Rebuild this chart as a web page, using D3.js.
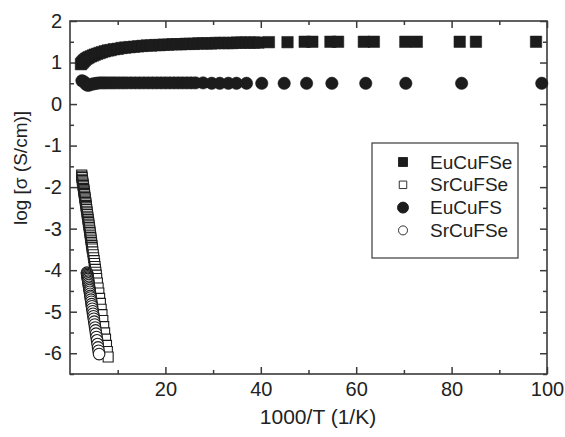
<!DOCTYPE html>
<html>
<head>
<meta charset="utf-8">
<script src="https://cdn.jsdelivr.net/npm/d3@7"></script>
<style>
  body { margin: 0; background: #fff; }
  text { font-family: "Liberation Sans", Arial, sans-serif; fill: #222; }
</style>
</head>
<body>
<div id="chart"></div>
<script>
// EuCuFSe (filled squares)
var xEuCuFSe = [2.3, 2.5, 2.7, 2.9, 3.1, 3.4, 3.7, 4.0, 4.4, 4.8, 5.2, 5.7, 6.2, 6.7, 7.3, 7.9, 8.5, 9.2, 10.0, 10.8,
  11.6, 12.5, 13.4, 14.3, 15.2, 16.1, 17.0, 17.9, 18.8, 19.7, 20.6, 21.5, 22.4, 23.3, 24.2, 25.1, 26.0, 26.9, 27.8, 28.7,
  29.6, 30.5, 31.4, 32.3, 33.2, 34.1, 35.0, 35.9, 36.8, 37.7, 38.6, 39.5, 41.7, 45.6, 49.2, 50.8, 54.6, 56.2, 61.6, 63.7,
  70.3, 72.7, 81.7, 85.1, 97.7];
var yEuCuFSe = [0.96, 0.99, 1.01, 1.04, 1.06, 1.09, 1.11, 1.13, 1.15, 1.17, 1.19, 1.21, 1.23, 1.25, 1.27, 1.29, 1.30, 1.32, 1.33, 1.35,
  1.36, 1.37, 1.38, 1.39, 1.40, 1.41, 1.41, 1.42, 1.42, 1.43, 1.43, 1.44, 1.44, 1.44, 1.45, 1.45, 1.45, 1.46, 1.46, 1.46,
  1.46, 1.47, 1.47, 1.47, 1.47, 1.47, 1.48, 1.48, 1.48, 1.48, 1.48, 1.48, 1.49, 1.49, 1.50, 1.50, 1.50, 1.50, 1.50, 1.50,
  1.50, 1.50, 1.50, 1.50, 1.50];

// SrCuFSe (open squares)
var xSrCuFSe = [2.45, 2.49, 2.53, 2.57, 2.61, 2.65, 2.69, 2.73, 2.77, 2.81, 2.85, 2.89, 2.93, 2.97, 3.01, 3.05, 3.09, 3.13, 3.17, 3.21,
  3.25, 3.29, 3.33, 3.37, 3.41, 3.45, 3.50, 3.55, 3.60, 3.65, 3.70, 3.75, 3.80, 3.85, 3.90, 3.95, 4.00, 4.05, 4.10, 4.15,
  4.20, 4.25, 4.30, 4.35, 4.40, 4.45, 4.50, 4.55, 4.60, 4.65, 4.70, 4.79, 4.88, 4.97, 5.06, 5.15, 5.24, 5.33, 5.42, 5.51,
  5.60, 5.75, 5.90, 6.05, 6.21, 6.37, 6.54, 6.71, 6.89, 7.07, 7.26, 7.45, 7.65, 7.83, 8.00];
var ySrCuFSe = [-1.71, -1.74, -1.77, -1.81, -1.84, -1.87, -1.90, -1.93, -1.96, -1.99, -2.03, -2.06, -2.09, -2.12, -2.15, -2.18, -2.22, -2.25, -2.28, -2.31,
  -2.34, -2.37, -2.40, -2.44, -2.47, -2.50, -2.54, -2.58, -2.62, -2.66, -2.70, -2.74, -2.78, -2.82, -2.85, -2.89, -2.93, -2.97, -3.01, -3.05,
  -3.09, -3.13, -3.17, -3.21, -3.25, -3.29, -3.33, -3.37, -3.41, -3.45, -3.49, -3.56, -3.63, -3.70, -3.77, -3.84, -3.91, -3.98, -4.05, -4.12,
  -4.20, -4.31, -4.43, -4.55, -4.68, -4.80, -4.94, -5.07, -5.21, -5.36, -5.51, -5.66, -5.81, -5.96, -6.09];

// EuCuFS (filled circles)
var xEuCuFS = [2.5, 2.9, 3.3, 3.7, 4.1, 4.6, 5.1, 5.6, 6.2, 6.8, 7.4, 8.1, 8.8, 9.5, 10.3, 11.1, 11.9, 12.8, 13.7, 14.6,
  15.5, 16.4, 17.3, 18.2, 19.1, 20.0, 20.9, 21.8, 22.7, 23.6, 24.5, 25.4, 26.3, 27.9, 29.7, 31.4, 33.2, 34.9, 37.0, 40.2,
  44.9, 49.6, 54.9, 62.0, 70.4, 82.1, 98.9];
var yEuCuFS = [0.56, 0.54, 0.48, 0.45, 0.46, 0.48, 0.49, 0.50, 0.51, 0.51, 0.51, 0.51, 0.51, 0.51, 0.51, 0.51, 0.51, 0.51, 0.51, 0.51,
  0.51, 0.51, 0.51, 0.51, 0.51, 0.51, 0.51, 0.51, 0.51, 0.51, 0.51, 0.51, 0.51, 0.51, 0.50, 0.50, 0.50, 0.50, 0.50, 0.50,
  0.50, 0.50, 0.50, 0.50, 0.50, 0.50, 0.50];

// SrCuFSe (open circles)
var xSrCuFSe2 = [3.56, 3.60, 3.64, 3.68, 3.72, 3.76, 3.80, 3.85, 3.90, 3.95, 4.00, 4.05, 4.10, 4.16, 4.22, 4.28, 4.34, 4.40, 4.47, 4.54,
  4.61, 4.68, 4.76, 4.84, 4.92, 5.00, 5.09, 5.18, 5.27, 5.36, 5.46, 5.56, 5.67, 5.78, 5.89, 6.00, 6.10];
var ySrCuFSe2 = [-4.06, -4.09, -4.12, -4.15, -4.18, -4.21, -4.25, -4.28, -4.32, -4.36, -4.40, -4.44, -4.48, -4.52, -4.57, -4.62, -4.66, -4.71, -4.76, -4.82,
  -4.87, -4.93, -4.99, -5.05, -5.11, -5.17, -5.24, -5.31, -5.38, -5.45, -5.53, -5.61, -5.69, -5.78, -5.86, -5.94, -6.02];

var xTicksMajor = [20, 40, 60, 80, 100];
var xTicksMinor = [10, 30, 50, 70, 90];
var yTicksMajor = [-6, -5, -4, -3, -2, -1, 0, 1, 2];
var yTicksMinor = [-6.5, -5.5, -4.5, -3.5, -2.5, -1.5, -0.5, 0.5, 1.5];

var legendNames = ["EuCuFSe", "SrCuFSe", "EuCuFS", "SrCuFSe"];

const width = 565, height = 437;
const margin = {top: 21, right: 18, bottom: 63, left: 70};

const svg = d3.select("#chart").append("svg")
  .attr("width", width)
  .attr("height", height);

const x = d3.scaleLinear().domain([0, 100]).range([margin.left, width - margin.right]);
const y = d3.scaleLinear().domain([-6.5, 2]).range([height - margin.bottom, margin.top]);

const axisColor = "#3a3a3a";
const fmt = d => String(d); // plain hyphen for negatives, like the original

function drawAxis(axis, transform, showLabels) {
  const g = svg.append("g").attr("transform", transform).call(axis);
  g.select(".domain").remove();
  g.selectAll("line").attr("stroke", axisColor).attr("stroke-width", 1.5);
  if (!showLabels) g.selectAll("text").remove();
  else g.selectAll("text").style("font-size", "20px").attr("fill", "#222");
  return g;
}

// ticks point inward on all four sides
drawAxis(d3.axisBottom(x).tickValues(xTicksMajor).tickSize(-7).tickPadding(8).tickFormat(fmt),
  `translate(0,${y(-6.5)})`, true);
drawAxis(d3.axisBottom(x).tickValues(xTicksMinor).tickSize(-4), `translate(0,${y(-6.5)})`, false);
drawAxis(d3.axisTop(x).tickValues(xTicksMajor).tickSize(-7), `translate(0,${y(2)})`, false);
drawAxis(d3.axisTop(x).tickValues(xTicksMinor).tickSize(-4), `translate(0,${y(2)})`, false);
drawAxis(d3.axisLeft(y).tickValues(yTicksMajor).tickSize(-7).tickPadding(8).tickFormat(fmt),
  `translate(${x(0)},0)`, true);
drawAxis(d3.axisLeft(y).tickValues(yTicksMinor).tickSize(-4), `translate(${x(0)},0)`, false);
drawAxis(d3.axisRight(y).tickValues(yTicksMajor).tickSize(-7), `translate(${x(100)},0)`, false);
drawAxis(d3.axisRight(y).tickValues(yTicksMinor).tickSize(-4), `translate(${x(100)},0)`, false);

// frame
svg.append("rect")
  .attr("x", x(0)).attr("y", y(2))
  .attr("width", x(100) - x(0)).attr("height", y(-6.5) - y(2))
  .attr("fill", "none").attr("stroke", axisColor).attr("stroke-width", 1.6);

function drawSeries(xs, ys, type, size, filled) {
  const pts = xs.map((v, i) => ({x: v, y: ys[i]}));
  svg.append("g")
    .selectAll("path")
    .data(pts)
    .join("path")
    .attr("d", d3.symbol(type, size))
    .attr("transform", d => `translate(${x(d.x)},${y(d.y)})`)
    .attr("fill", filled ? "#1c1c1c" : "#fff")
    .attr("stroke", "#1c1c1c")
    .attr("stroke-width", filled ? 0.5 : 1.1);
}

drawSeries(xEuCuFSe, yEuCuFSe, d3.symbolSquare, 132, true);
drawSeries(xSrCuFSe, ySrCuFSe, d3.symbolSquare, 100, false);
drawSeries(xEuCuFS, yEuCuFS, d3.symbolCircle, 121, true);
drawSeries(xSrCuFSe2, ySrCuFSe2, d3.symbolCircle, 106, false);

// axis titles
svg.append("text")
  .attr("x", 318).attr("y", 424)
  .attr("text-anchor", "middle")
  .style("font-size", "21px")
  .text("1000/T (1/K)");

svg.append("text")
  .attr("transform", "translate(27,168) rotate(-90)")
  .attr("text-anchor", "middle")
  .style("font-size", "19px")
  .text("log [σ (S/cm)]");

// legend
const legend = svg.append("g");
legend.append("rect")
  .attr("x", 372).attr("y", 143).attr("width", 146).attr("height", 115)
  .attr("fill", "#fff").attr("stroke", axisColor).attr("stroke-width", 1.2);

var legendSymbols = [
  {type: d3.symbolSquare, size: 81, filled: true},
  {type: d3.symbolSquare, size: 56, filled: false},
  {type: d3.symbolCircle, size: 95, filled: true},
  {type: d3.symbolCircle, size: 64, filled: false}
];

legendNames.forEach((name, i) => {
  const ly = 162 + i * 22.8;
  legend.append("path")
    .attr("d", d3.symbol(legendSymbols[i].type, legendSymbols[i].size))
    .attr("transform", `translate(403,${ly})`)
    .attr("fill", legendSymbols[i].filled ? "#1c1c1c" : "#fff")
    .attr("stroke", "#1c1c1c")
    .attr("stroke-width", 0.9);
  legend.append("text")
    .attr("x", 430).attr("y", ly)
    .attr("dy", "0.35em")
    .style("font-size", "19px")
    .text(name);
});
</script>
</body>
</html>
